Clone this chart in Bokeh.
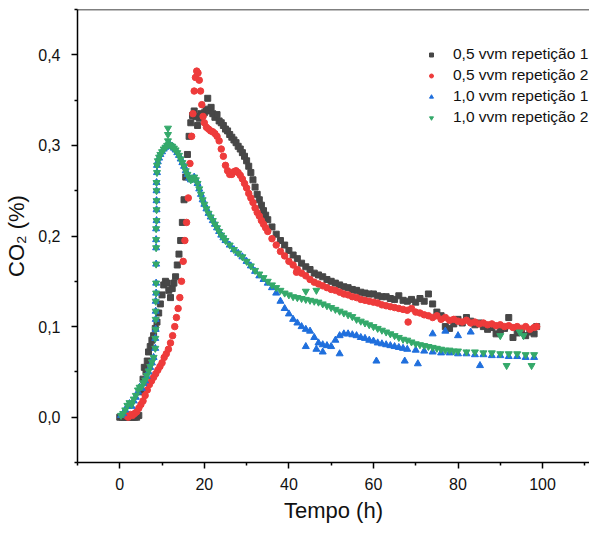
from bokeh.plotting import figure
from bokeh.models import (Range1d, FixedTicker, CustomJSTickFormatter, Legend, LegendItem, Span)
from bokeh.embed import file_html
from bokeh.resources import INLINE

# ---------------- data ----------------
# 0,5 vvm repetição 1
t_a1 = [0, 0.5, 1, 1.5, 2, 2.5, 3, 3.5, 4, 4.5, 5.0, 5.5, 5.8, 6.2, 6.5, 6.8, 7.2, 7.6, 8.0, 8.4,
        8.8, 9.2, 9.6, 10.0, 10.4, 10.8, 11.2, 11.6, 12.0, 12.4, 12.8, 13.2, 13.6, 14.0, 14.4, 14.8,
        15.2, 15.6, 16.0, 16.4, 16.8, 17.2, 17.6, 18.0, 18.4, 18.8, 19.2, 19.6, 20.0, 20.4, 20.8,
        21.2, 21.6, 22.0, 22.5, 23.0, 23.5, 24.0, 24.5, 25.0, 25.5, 26.0, 26.5, 27.0, 27.5, 28.0,
        28.5, 29.0, 29.5, 30.0, 30.5, 31.0, 31.5, 32.0, 32.5, 33.0, 33.5, 34.0, 34.5, 35.0, 36, 37,
        38, 39, 40, 41, 42, 43, 44, 45, 46, 47, 48, 49, 50, 51, 52, 53, 54, 55, 56, 57, 58, 59, 60,
        61, 62, 63, 64, 65, 66, 67, 68, 69, 70, 71, 72, 73, 74, 75, 76, 77, 78, 79, 80, 81, 82, 83,
        84, 85, 86, 87, 88, 89, 90, 91, 92, 93, 94, 95, 96, 97, 98, 98.6]
co2_a1 = [0, 0, 0, 0, 0, 0, 0, 0, 0, 0.002, 0.028, 0.042, 0.055, 0.05, 0.062, 0.072, 0.078, 0.085,
          0.09, 0.098, 0.105, 0.115, 0.125, 0.135, 0.146, 0.15, 0.148, 0.14, 0.132, 0.142, 0.148,
          0.155, 0.168, 0.18, 0.195, 0.215, 0.24, 0.265, 0.29, 0.31, 0.325, 0.333, 0.338, 0.332,
          0.322, 0.33, 0.335, 0.334, 0.336, 0.34, 0.352, 0.338, 0.342, 0.335, 0.331, 0.334, 0.327,
          0.325, 0.322, 0.318, 0.316, 0.312, 0.309, 0.306, 0.303, 0.299, 0.296, 0.292, 0.288, 0.283,
          0.277, 0.27, 0.262, 0.254, 0.246, 0.24, 0.234, 0.228, 0.223, 0.218, 0.21, 0.202, 0.195,
          0.19, 0.184, 0.179, 0.175, 0.17, 0.166, 0.163, 0.159, 0.157, 0.155, 0.152, 0.15, 0.148,
          0.146, 0.144, 0.143, 0.141, 0.14, 0.138, 0.137, 0.136, 0.136, 0.134, 0.133, 0.133, 0.131,
          0.13, 0.134, 0.129, 0.128, 0.13, 0.127, 0.131, 0.128, 0.136, 0.125, 0.116, 0.112, 0.1,
          0.098, 0.103, 0.108, 0.104, 0.11, 0.106, 0.102, 0.104, 0.1, 0.097, 0.099, 0.092, 0.096,
          0.098, 0.11, 0.088, 0.093, 0.095, 0.09, 0.094, 0.092, 0.1]

# 0,5 vvm repetição 2
t_a2 = [1.5, 2, 2.5, 3, 3.5, 4, 4.5, 5, 5.5, 6, 6.5, 7, 7.5, 8, 8.5, 9, 9.5, 10, 10.5, 11, 11.5,
        12, 12.5, 13, 13.4, 13.8, 14.2, 14.6, 15.0, 15.4, 15.8, 16.2, 16.6, 17.0, 17.3, 17.6, 17.9,
        18.2, 18.5, 18.8, 19.1, 19.4, 19.7, 20.0, 20.5, 21.0, 21.5, 22.0, 22.5, 23.0, 23.5, 24.0,
        24.5, 25.0, 25.5, 26.0, 26.5, 27.0, 27.5, 28.0, 28.5, 29.0, 29.5, 30.0, 30.5, 31.0, 31.5,
        32.0, 32.5, 33.0, 33.5, 34.0, 34.5, 35.0, 36, 37, 38, 39, 40, 41, 42, 43, 44, 45, 46, 47,
        48, 49, 50, 51, 52, 53, 54, 55, 56, 57, 58, 59, 60, 61, 62, 63, 64, 65, 66, 67, 68, 69, 70,
        71, 72, 73, 74, 75, 76, 77, 78, 79, 80, 81, 82, 83, 84, 85, 86, 87, 88, 89, 90, 91, 92, 93,
        94, 95, 96, 97, 98, 98.6, 41.8, 68.2]
co2_a2 = [0.002, 0.0, 0.003, 0.002, 0.004, 0.006, 0.01, 0.014, 0.018, 0.024, 0.03, 0.036, 0.04,
          0.044, 0.048, 0.052, 0.056, 0.06, 0.066, 0.07, 0.075, 0.082, 0.09, 0.1, 0.11, 0.12,
          0.132, 0.15, 0.172, 0.195, 0.215, 0.242, 0.28, 0.31, 0.335, 0.36, 0.375, 0.382, 0.38,
          0.372, 0.36, 0.345, 0.332, 0.325, 0.32, 0.318, 0.316, 0.315, 0.313, 0.31, 0.305, 0.296,
          0.288, 0.278, 0.272, 0.268, 0.268, 0.271, 0.272, 0.27, 0.267, 0.263, 0.258, 0.253,
          0.247, 0.242, 0.237, 0.231, 0.226, 0.222, 0.217, 0.213, 0.209, 0.205, 0.197, 0.19,
          0.183, 0.178, 0.172, 0.168, 0.163, 0.159, 0.156, 0.152, 0.149, 0.147, 0.145, 0.143,
          0.141, 0.14, 0.138, 0.136, 0.135, 0.133, 0.132, 0.13, 0.129, 0.128, 0.127, 0.126, 0.124,
          0.123, 0.122, 0.121, 0.12, 0.119, 0.118, 0.12, 0.116, 0.115, 0.113, 0.112, 0.11, 0.112,
          0.108, 0.11, 0.107, 0.108, 0.106, 0.105, 0.107, 0.104, 0.105, 0.103, 0.104, 0.102,
          0.103, 0.101, 0.102, 0.1, 0.101, 0.099, 0.1, 0.098, 0.1, 0.097, 0.099, 0.1, 0.16, 0.105]

# 1,0 vvm repetição 1
t_b1 = [0.3, 0.8, 1.3, 1.8, 2.3, 2.8, 3.3, 3.8, 4.3, 4.7, 5.2, 5.6, 6.0, 6.4, 6.8, 7.2, 7.6, 8.0,
        8.4, 8.4, 8.5, 8.5, 8.5, 8.5, 8.6, 8.6, 8.6, 8.6, 8.6, 8.6, 8.7, 8.7, 8.7, 8.7, 8.7, 8.8,
        8.8, 9.0, 9.3, 9.6, 10.0, 10.4, 10.8, 11.2, 11.6, 12.0, 12.4, 12.8, 13.2, 13.6, 14.0,
        14.4, 14.8, 15.2, 15.6, 16.0, 16.4, 16.8, 17.2, 17.6, 18.0, 18.4, 18.8, 19.2, 19.6, 20.0,
        20.5, 21.0, 21.5, 22.0, 22.5, 23.0, 23.5, 24.0, 24.5, 25.0, 26, 27, 28, 29, 30, 31, 32,
        33, 34, 35, 36, 37, 38, 39, 40, 41, 42, 43, 44, 45, 46, 47, 48, 49, 50, 51, 52, 53, 54,
        55, 56, 57, 58, 59, 60, 61, 62, 63, 64, 65, 66, 67, 68, 70, 72, 74, 76, 78, 80, 82, 84,
        86, 88, 90, 92, 94, 96, 98,
        46.5, 60.7, 67.4, 70.5, 74, 77, 80, 83, 85.2, 44, 48, 52]
co2_b1 = [0.002, 0.004, 0.008, 0.012, 0.015, 0.012, 0.018, 0.022, 0.028, 0.033, 0.032, 0.037,
          0.04, 0.045, 0.05, 0.055, 0.06, 0.066, 0.076, 0.087, 0.097, 0.108, 0.117, 0.128, 0.137,
          0.148, 0.169, 0.187, 0.196, 0.208, 0.217, 0.229, 0.239, 0.25, 0.259, 0.27, 0.278, 0.282,
          0.286, 0.29, 0.293, 0.296, 0.298, 0.3, 0.301, 0.3, 0.299, 0.297, 0.295, 0.292, 0.289,
          0.285, 0.281, 0.277, 0.272, 0.268, 0.264, 0.262, 0.263, 0.265, 0.262, 0.258, 0.252,
          0.246, 0.24, 0.235, 0.23, 0.225, 0.221, 0.217, 0.213, 0.209, 0.205, 0.201, 0.198, 0.195,
          0.19, 0.185, 0.181, 0.177, 0.172, 0.167, 0.161, 0.156, 0.152, 0.148, 0.143, 0.137,
          0.128, 0.12, 0.114, 0.108, 0.104, 0.1, 0.097, 0.095, 0.088, 0.082, 0.08, 0.079, 0.078,
          0.085, 0.09, 0.092, 0.092, 0.091, 0.09, 0.088, 0.087, 0.085, 0.084, 0.082, 0.081, 0.08,
          0.079, 0.078, 0.077, 0.076, 0.075, 0.074, 0.073, 0.072, 0.071, 0.071, 0.07, 0.07, 0.069,
          0.069, 0.068, 0.068, 0.067, 0.067, 0.066, 0.066,
          0.075, 0.062, 0.062, 0.059, 0.092, 0.095, 0.09, 0.094, 0.057, 0.078, 0.072, 0.07]

# 1,0 vvm repetição 2
t_b2 = [0.3, 0.8, 1.3, 1.8, 2.3, 2.8, 3.3, 3.8, 4.3, 4.7, 5.2, 5.6, 6.0, 6.4, 6.8, 7.2, 7.6, 8.0,
        8.4, 8.4, 8.5, 8.5, 8.5, 8.5, 8.6, 8.6, 8.6, 8.6, 8.6, 8.6, 8.7, 8.7, 8.7, 8.7, 8.7, 8.8,
        8.8, 9.0, 9.3, 9.6, 10.0, 10.4, 10.8, 11.2, 11.4, 11.4, 11.4, 11.6, 12.0, 12.4, 12.8,
        13.2, 13.6, 14.0, 14.4, 14.8, 15.2, 15.6, 16.0, 16.4, 16.8, 17.2, 17.6, 18.0, 18.4, 18.8,
        19.2, 19.6, 20.0, 20.5, 21.0, 21.5, 22.0, 22.5, 23.0, 23.5, 24.0, 24.5, 25.0, 26, 27, 28,
        29, 30, 31, 32, 33, 34, 35, 36, 37, 38, 39, 40, 41, 42, 43, 44, 45, 46, 47, 48, 49, 50,
        51, 52, 53, 54, 55, 56, 57, 58, 59, 60, 61, 62, 63, 64, 65, 66, 67, 68, 69, 70, 71, 72,
        73, 74, 75, 76, 77, 78, 79, 80, 82, 84, 86, 88, 90, 92, 94, 96, 98,
        44, 46.5, 94.6, 97.4, 91.5, 95.5, 90]
co2_b2 = [0.002, 0.004, 0.008, 0.013, 0.016, 0.014, 0.02, 0.024, 0.03, 0.033, 0.034, 0.038, 0.041,
          0.046, 0.051, 0.056, 0.061, 0.066, 0.076, 0.087, 0.097, 0.108, 0.117, 0.128, 0.137,
          0.148, 0.169, 0.187, 0.196, 0.208, 0.217, 0.229, 0.239, 0.25, 0.259, 0.27, 0.278, 0.283,
          0.287, 0.29, 0.293, 0.296, 0.298, 0.3, 0.305, 0.312, 0.319, 0.301, 0.3, 0.299, 0.297,
          0.295, 0.292, 0.289, 0.285, 0.281, 0.277, 0.272, 0.268, 0.264, 0.262, 0.263, 0.265,
          0.262, 0.258, 0.252, 0.246, 0.24, 0.235, 0.23, 0.225, 0.221, 0.217, 0.213, 0.209, 0.205,
          0.201, 0.198, 0.195, 0.19, 0.185, 0.181, 0.177, 0.172, 0.167, 0.162, 0.158, 0.154, 0.15,
          0.146, 0.143, 0.14, 0.137, 0.135, 0.133, 0.132, 0.131, 0.13, 0.129, 0.128, 0.127, 0.125,
          0.123, 0.121, 0.119, 0.117, 0.115, 0.113, 0.111, 0.108, 0.106, 0.104, 0.102, 0.1, 0.098,
          0.096, 0.094, 0.092, 0.09, 0.088, 0.086, 0.085, 0.083, 0.081, 0.08, 0.079, 0.078, 0.077,
          0.076, 0.075, 0.074, 0.074, 0.073, 0.073, 0.072, 0.072, 0.071, 0.071, 0.07, 0.07, 0.07,
          0.069, 0.069,
          0.139, 0.14, 0.094, 0.057, 0.057, 0.09, 0.09]

labels = ["0,5 vvm repetição 1", "0,5 vvm repetição 2", "1,0 vvm repetição 1", "1,0 vvm repetição 2"]
x_ticks = [0, 20, 40, 60, 80, 100]
x_minor = [-10, 10, 30, 50, 70, 90, 110]
y_ticks = [0.0, 0.1, 0.2, 0.3, 0.4]
y_minor = [-0.05, 0.05, 0.15, 0.25, 0.35, 0.45]

# ---------------- figure ----------------
FONT = "Liberation Sans"
p = figure(width=589, height=526, output_backend="svg", toolbar_location=None,
           x_range=Range1d(-10, 111.1), y_range=Range1d(-0.05, 0.45),
           min_border_left=77, min_border_right=0, min_border_top=9, min_border_bottom=64)
p.grid.visible = False
p.outline_line_color = None
p.background_fill_color = "white"
p.border_fill_color = "white"

r1 = p.scatter(t_a1, co2_a1, marker="square", size=6, color="#474747")
r2 = p.scatter(t_a2, co2_a2, marker="circle", size=6.5, color="#ee3b3b")
r3 = p.scatter(t_b1, co2_b1, marker="triangle", size=7, color="#1f6fdd")
r4 = p.scatter(t_b2, co2_b2, marker="inverted_triangle", size=7, color="#34a96a")

p.add_layout(Span(location=0.45, dimension="width", line_color="black", line_width=1.5))

for ax in (p.xaxis[0], p.yaxis[0]):
    ax.axis_line_width = 1.5
    ax.axis_line_color = "black"
    ax.major_tick_line_width = 1.5
    ax.minor_tick_line_width = 1.5
    ax.major_tick_in = 0
    ax.major_tick_out = 6
    ax.minor_tick_in = 0
    ax.minor_tick_out = 3
    ax.major_label_text_font = FONT
    ax.major_label_text_font_size = "16px"
    ax.major_label_text_color = "#111111"
    ax.axis_label_text_font = FONT
    ax.axis_label_text_font_size = "22px"
    ax.axis_label_text_font_style = "normal"
    ax.axis_label_text_color = "#111111"

p.xaxis[0].ticker = FixedTicker(ticks=x_ticks, minor_ticks=x_minor)
p.yaxis[0].ticker = FixedTicker(ticks=y_ticks, minor_ticks=y_minor)
p.xaxis[0].formatter = CustomJSTickFormatter(code="return tick.toFixed(0);")
p.yaxis[0].formatter = CustomJSTickFormatter(code="return tick.toFixed(1).replace('.', ',');")
p.xaxis[0].major_label_standoff = 9
p.yaxis[0].major_label_standoff = 11
p.xaxis[0].axis_label = "Tempo (h)"
p.yaxis[0].axis_label = "CO\u2082 (%)"
p.xaxis[0].axis_label_standoff = 5
p.yaxis[0].axis_label_standoff = 6

legend = Legend(items=[LegendItem(label=labels[0], renderers=[r1]),
                       LegendItem(label=labels[1], renderers=[r2]),
                       LegendItem(label=labels[2], renderers=[r3]),
                       LegendItem(label=labels[3], renderers=[r4])],
                location=(349, 334.5), padding=0, spacing=0, margin=0,
                glyph_width=10, glyph_height=21, label_height=21, label_standoff=17,
                label_text_font=FONT, label_text_font_size="15.5px", label_text_color="#111111",
                border_line_color=None, background_fill_alpha=0)
p.add_layout(legend)

open("out.html", "w").write(file_html(p, INLINE))
